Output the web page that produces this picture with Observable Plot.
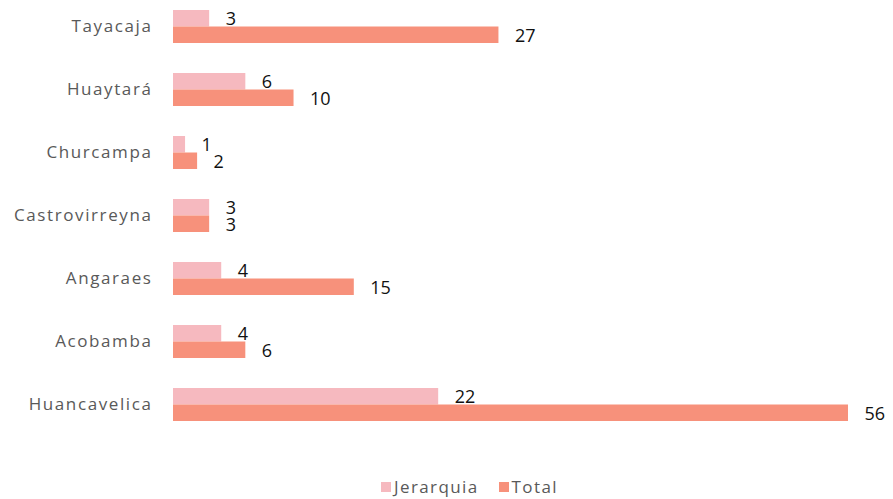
<!DOCTYPE html>
<html>
<head>
<meta charset="utf-8">
<script src="https://cdn.jsdelivr.net/npm/d3@7"></script>
<script src="https://cdn.jsdelivr.net/npm/@observablehq/plot@0.6"></script>
<style>
  body { margin: 0; background: #fff; }
  #chart { width: 893px; }
  #chart g[aria-label="y-axis tick label"] text { letter-spacing: 1.6px; }
  .legend { height: 39px; display: flex; justify-content: center; align-items: center; gap: 20px;
    font-family: "Open Sans", Lato, sans-serif; font-size: 17px; letter-spacing: 1.4px; color: #595959;
    padding-left: 46px; padding-top: 14px; box-sizing: border-box; }
  .legend span.sw { display: inline-block; width: 10px; height: 10px; margin-right: 3px; vertical-align: middle; }
  .legend .item { display: inline-flex; align-items: center; }
</style>
</head>
<body>
<div id="chart"></div>
<script>
const categories = ["Tayacaja", "Huaytará", "Churcampa", "Castrovirreyna", "Angaraes", "Acobamba", "Huancavelica"];
const jerarquia = [3, 6, 1, 3, 4, 4, 22];
const total = [27, 10, 2, 3, 15, 6, 56];
const seriesNames = ["Jerarquia", "Total"];
const colors = ["#f6b9bf", "#f7917b"];

const dataJ = categories.map((c, i) => ({category: c, value: jerarquia[i]}));
const dataT = categories.map((c, i) => ({category: c, value: total[i]}));

const half = 16.5;
const font = "'Open Sans', Lato, sans-serif";

const plot = Plot.plot({
  width: 893,
  height: 460,
  marginLeft: 173,
  marginRight: 45,
  marginTop: 3,
  marginBottom: 32,
  style: {fontFamily: font, background: "#fff"},
  x: {domain: [0, 56], axis: null},
  y: {domain: categories, paddingInner: 0.479, paddingOuter: 0.1, label: null},
  marks: [
    Plot.axisY({tickSize: 0, tickPadding: 21, fontSize: 17, color: "#595959", label: null, fontFamily: font}),
    Plot.barX(dataJ, {y: "category", x: "value", fill: colors[0], insetBottom: half}),
    Plot.barX(dataT, {y: "category", x: "value", fill: colors[1], insetTop: half}),
    Plot.text(dataJ, {y: "category", x: "value", text: d => String(d.value), dx: 16, dy: -8, textAnchor: "start", fontSize: 18, fill: "#111", fontFamily: font}),
    Plot.text(dataT, {y: "category", x: "value", text: d => String(d.value), dx: 16, dy: 9, textAnchor: "start", fontSize: 18, fill: "#111", fontFamily: font})
  ]
});
document.getElementById("chart").appendChild(plot);

const legend = document.createElement("div");
legend.className = "legend";
seriesNames.forEach((s, i) => {
  const item = document.createElement("span");
  item.className = "item";
  const sw = document.createElement("span");
  sw.className = "sw";
  sw.style.background = colors[i];
  item.appendChild(sw);
  item.appendChild(document.createTextNode(s));
  legend.appendChild(item);
});
document.getElementById("chart").appendChild(legend);
</script>
</body>
</html>
